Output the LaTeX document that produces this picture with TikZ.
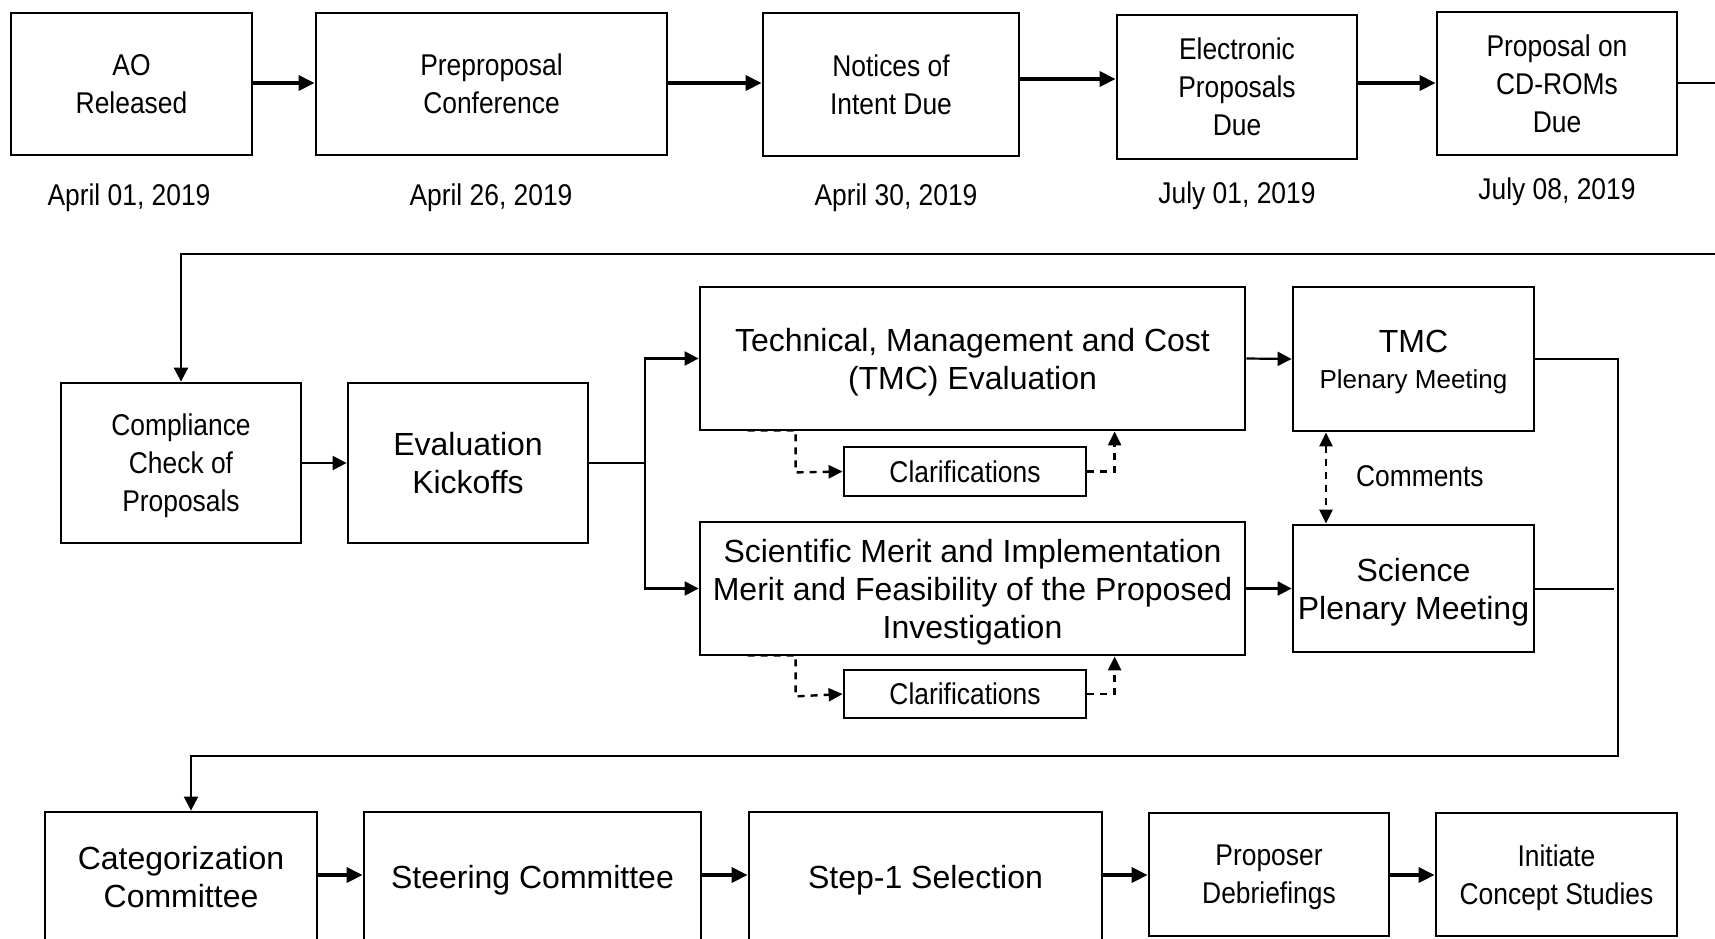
\documentclass[tikz,border=0pt]{standalone}
\usepackage{fontspec}
\setmainfont{Liberation Sans}
\newfontfamily\nfont[FakeStretch=0.88]{Liberation Sans}
\usetikzlibrary{arrows.meta,calc}
\begin{document}
\begin{tikzpicture}[x=0.5pt,y=-0.5pt,
  box/.style={draw, line width=1.4pt, inner sep=0pt, align=center},
  rc/.style n args={4}{at={({(#1+#3)/2},{(#2+#4)/2})}, minimum width={(#3-#1)*0.5pt}, minimum height={(#4-#2)*0.5pt}},
  nar/.style={font=\fontsize{15}{19}\selectfont\nfont, align=center, text depth=0pt},
  ari/.style={font=\fontsize{16}{19}\selectfont, align=center, text depth=0pt},
  bigarrow/.style={line width=1.7pt, -{Triangle[length=8pt,width=7.5pt]}},
  conn/.style={line width=1.1pt, -{Triangle[length=7pt,width=7pt]}},
  dashln/.style={line width=1.2pt, dash pattern=on 3.5pt off 3pt},
  dconn/.style={dashln, -{Triangle[length=7pt,width=6.5pt]}},
]
\useasboundingbox (0,0) rectangle (1715,938);

% ---- row 1
\node[box,nar,rc={11}{13}{252}{155}] (ao) {AO\\Released};
\node[box,nar,rc={316}{13}{667}{155}] (pre) {Preproposal\\Conference};
\node[box,nar,rc={763}{13}{1019}{156}] (noi) {Notices of\\Intent Due};
\node[box,nar,rc={1117}{15}{1357}{159}] (elec) {Electronic\\Proposals\\Due};
\node[box,nar,rc={1437}{12}{1677}{155}] (cd) {Proposal on\\CD-ROMs\\Due};

\node[nar] (d1) at (129,195) {April 01, 2019};
\node[nar] (d2) at (491,195) {April 26, 2019};
\node[nar] (d3) at (896,195) {April 30, 2019};
\node[nar] (d4) at (1237,193) {July 01, 2019};
\node[nar] (d5) at (1557,189) {July 08, 2019};

\draw[bigarrow] (ao.east |- 0,83) -- (pre.west |- 0,83);
\draw[bigarrow] (pre.east |- 0,83) -- (noi.west |- 0,83);
\draw[bigarrow] (noi.east |- 0,79) -- (elec.west |- 0,79);
\draw[bigarrow] (elec.east |- 0,83) -- (cd.west |- 0,83);

% ---- row 2
\node[box,nar,rc={61}{383}{301}{543}] (comp) {Compliance\\Check of\\Proposals};
\node[box,ari,rc={348}{383}{588}{543}] (eval) {Evaluation\\Kickoffs};
\node[box,ari,rc={700}{287}{1245}{430}] (tmce) {Technical, Management and Cost\\(TMC) Evaluation};
\node[box,nar,rc={844}{447}{1086}{496}] (clar1) {Clarifications};
\node[box,ari,rc={700}{522}{1245}{655}] (sci) {Scientific Merit and Implementation\\Merit and Feasibility of the Proposed\\Investigation};
\node[box,nar,rc={844}{670}{1086}{718}] (clar2) {Clarifications};
\node[box,ari,rc={1293}{287}{1534}{431}] (tmcp) {TMC\\[-1pt]{\fontsize{13}{15}\selectfont Plenary Meeting}};
\node[box,ari,rc={1293}{525}{1534}{652}] (scip) {Science\\Plenary Meeting};
\node[nar,anchor=west] (cm) at (1349,476) {Comments};

% loop from row 1 to row 2
\draw[line width=1.4pt, -{Triangle[length=7pt,width=7pt]}] (cd.east |- 0,83) -- (1760,83) -- (1760,254) -| (comp.north);

\draw[conn] (comp.east) -- (eval.west);
\coordinate (br) at (645,463);
\draw[line width=1.1pt] (eval.east) -- (br);
\draw[conn] (br) |- (tmce.west);
\draw[conn] (br) |- (sci.west);
\draw[conn] (tmce.east) -- (tmcp.west);
\draw[conn] (sci.east) -- (scip.west);

\draw[dconn] ($(tmce.south west)+(49,-1)$) -| ($(tmce.south west)+(97,41)$) -- (clar1.west);
\draw[dconn] (clar1.east) -| ($(tmce.south west)+(416,0)$);
\draw[dconn] ($(sci.south west)+(49,-1)$) -| ($(sci.south west)+(97,40)$) -- (clar2.west);
\draw[dconn] (clar2.east) -| ($(sci.south west)+(416,0)$);

\draw[dashln, {Triangle[length=7pt,width=6.5pt]}-{Triangle[length=7pt,width=6.5pt]}] (tmcp.south -| 1326,0) -- (scip.north -| 1326,0);

% ---- row 3
\node[box,ari,rc={45}{812}{317}{942}] (cat) {Categorization\\Committee};
\node[box,ari,rc={364}{812}{701}{942}] (steer) {Steering Committee};
\node[box,ari,rc={749}{812}{1102}{942}] (step1) {Step-1 Selection};
\node[box,nar,rc={1149}{813}{1389}{936}] (prop) {Proposer\\Debriefings};
\node[box,nar,rc={1436}{813}{1677}{936}] (init) {Initiate\\Concept Studies};

\coordinate (c1) at (1618,756);
\draw[conn] (tmcp.east) -| (c1) -| ($(cat.north)+(10,0)$);
\draw[line width=1pt] (scip.east) -- ++(79,0);

\draw[bigarrow] (cat.east |- 0,875) -- (steer.west |- 0,875);
\draw[bigarrow] (steer.east |- 0,875) -- (step1.west |- 0,875);
\draw[bigarrow] (step1.east |- 0,875) -- (prop.west |- 0,875);
\draw[bigarrow] (prop.east |- 0,875) -- (init.west |- 0,875);
\end{tikzpicture}
\end{document}
